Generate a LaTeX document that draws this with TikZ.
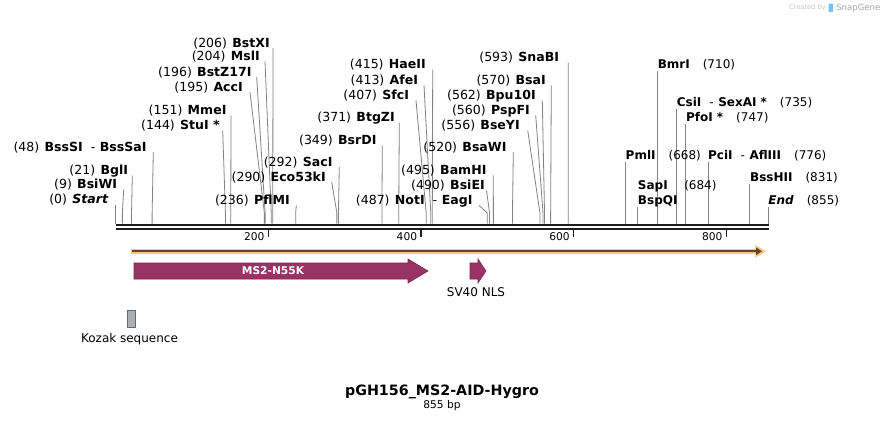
\documentclass[tikz,border=0pt]{standalone}
\usepackage{fontspec}
\setmainfont{DejaVu Sans}
\usepackage{xcolor}
\usepackage{tikz}
\usetikzlibrary{arrows.meta, positioning, calc}
\definecolor{cutGray}{RGB}{130,130,130}
\definecolor{backboneDark}{RGB}{30,30,30}
\definecolor{featMagenta}{RGB}{153,51,102}
\definecolor{featOrange}{RGB}{250,200,122}
\definecolor{featBrown}{RGB}{88,72,52}
\definecolor{kozakGray}{RGB}{170,176,183}
\definecolor{snapBlue}{RGB}{120,195,240}
\newcommand{\cutpair}[2]{#1\hspace{6pt}{\mdseries -}\hspace{3.4pt}#2}

\begin{document}
\begin{tikzpicture}[
    x=0.75pt, y=-0.75pt,
    leftlbl/.style={anchor=base east, inner sep=0pt, font=\fontsize{9.4}{10}\selectfont},
    rightlbl/.style={anchor=base west, inner sep=0pt, font=\fontsize{9}{10}\selectfont},
    cutline/.style={draw=cutGray, line width=0.6pt},
    backbone/.style={draw=backboneDark},
    tickmark/.style={draw=backboneDark, line width=1pt},
    ticklbl/.style={anchor=base east, inner sep=0pt, font=\fontsize{8}{9}\selectfont},
    featbox/.style={draw=featMagenta!75!black, line width=0.4pt, fill=featMagenta},
    featlbl/.style={inner sep=0pt, font=\fontsize{9}{10}\selectfont}
  ]
    \fill[white] (0,0) rectangle (886,421);
    \useasboundingbox (0,0) rectangle (886,421);

    % enzymes, labels on the left of their line
    \foreach \bp/\nm/\tx/\lx/\by in {
        206/BstXI/270/273/47, 204/MslI/260/265/60.4, 196/BstZ17I/251.7/256.7/76.1,
        195/AccI/243/250/91.1, 151/MmeI/226.7/231/114.4, 144/{StuI *}/220/222.7/129.4,
        48/{\cutpair{BssSI}{BssSaI}}/146.7/153.3/151.1, 21/BglI/128.3/132.3/174.4,
        9/BsiWI/117.3/123.7/188.4, 0/{\itshape Start}/108.3/115.5/203.7,
        236/PflMI/290/296.3/204.4, 290/Eco53kI/326/331.7/181.1, 292/SacI/332.7/339.3/166.1,
        349/BsrDI/376.7/382.3/144.4, 371/BtgZI/395/399.3/121.7, 407/SfcI/409.3/416/99.4,
        413/AfeI/418.3/424/84.4, 415/HaeII/426/432.7/68.7,
        487/{\cutpair{NotI}{EagI}}/472.7/479/204.4, 490/BsiEI/485/486.5/189.4,
        495/BamHI/486.7/493.3/174.4, 520/BsaWI/506.7/513.3/151.1, 556/BseYI/520/527.7/129.4,
        560/PspFI/530/535.7/114.4, 562/Bpu10I/536/542.3/99.4, 570/BsaI/546/551.3/84.4,
        593/SnaBI/559.3/568.3/61.7}{
      \pgfmathsetmacro\sx{115.5+0.7634*\bp}
      \node[leftlbl] (e\bp) at (\tx,\by) {(\bp)\hspace{4pt}{\bfseries\nm}};
      \coordinate (t\bp) at (\lx,\by+1);
      \coordinate (k\bp) at (\sx,213);
      \coordinate (b\bp) at (\sx,223.5);
      \draw[cutline] (t\bp) -- (k\bp) -- (b\bp);
    }

    % enzymes, labels on the right of their line
    \foreach \bp/\nm/\by in {
        710/BmrI/68.4, 735/{\cutpair{CsiI}{SexAI} *}/106, 747/{PfoI *}/121.4,
        668/PmlI/159.4, 776/{\cutpair{PciI}{AflIII}}/159.4, 831/BssHII/181,
        855/{\itshape End}/204.4}{
      \pgfmathsetmacro\sx{115.5+0.7634*\bp}
      \node[rightlbl] (e\bp) at (\sx,\by) {{\bfseries\nm}\hspace{9.75pt}(\bp)};
      \coordinate (t\bp) at (\sx,\by+3);
      \coordinate (b\bp) at (\sx,223.5);
      \draw[cutline] (t\bp) -- (b\bp);
    }
    \node[rightlbl] (e684) at (637.7,204.4) {\bfseries BspQI};
    \node[rightlbl] (sap) at (637.7,189.4) {\bfseries SapI};
    \node[rightlbl] (sapnum) at (684,189.4) {(684)};
    \coordinate (t684) at (637.7,207.4);
    \coordinate (b684) at (637.7,223.5);
    \draw[cutline] (t684) -- (b684);

    % sequence
    \coordinate (seqL) at (115.5,224.9);
    \coordinate (seqR) at (768.5,224.9);
    \coordinate (strL) at (115.5,229.1);
    \coordinate (strR) at (768.5,229.1);
    \draw[backbone, line width=1.8pt] (seqL) -- (seqR);
    \draw[backbone, line width=1.45pt] (strL) -- (strR);
    \foreach \t in {200,400,600,800}{
      \pgfmathsetmacro\tx{115.5+0.7634*\t}
      \coordinate (tk\t) at (\tx,229.5);
      \draw[tickmark] (tk\t) -- ++(0,7);
      \node[ticklbl] at (\tx-3.5,240.7) {\t};
    }

    % features
    \coordinate (orgL) at (131,251.3);
    \coordinate (orgR) at (766,251.3);
    \coordinate (brnR) at (762,251.3);
    \draw[featOrange, line width=3.9pt, -{Triangle[length=8pt,width=9pt]}] (orgL) -- (orgR);
    \draw[featBrown, line width=1.5pt, -{Triangle[length=4.5pt,width=5.5pt]}] ([xshift=0.4pt]orgL) -- (brnR);

    \draw[featbox] (134,263) -- (408,263) -- (408,259) -- (428,271) -- (408,283) -- (408,279) -- (134,279) -- cycle;
    \node[featlbl, text=white, font=\fontsize{8}{9}\selectfont\bfseries] (ms2) at (273,271) {MS2-N55K};

    \draw[featbox] (470,263) -- (478,263) -- (478,259) -- (486,271) -- (478,283) -- (478,279) -- (470,279) -- cycle;
    \node[featlbl] (nls) at (476,292.5) {SV40 NLS};

    \draw[draw=kozakGray!60!black, line width=0.4pt, fill=kozakGray] (127,310) rectangle (135,327);
    \node[featlbl] (kozak) at (129.5,339.5) {Kozak sequence};

    % title
    \node[inner sep=0pt, anchor=base, font=\fontsize{10.7}{12}\selectfont\bfseries] (title) at (442,395.5) {pGH156\_MS2-AID-Hygro};
    \node[inner sep=0pt, anchor=base, font=\fontsize{8}{9}\selectfont] (len) at (442,408) {855 bp};

    \node[inner sep=0pt, anchor=base east, text=gray!45, font=\fontsize{5}{6}\selectfont] (made) at (826,9.8) {Created by};
    \fill[snapBlue, rounded corners=0.6pt] (828.5,3.5) rectangle (833,12);
    \node[inner sep=0pt, anchor=base west, text=gray!70, font=\fontsize{6.4}{7}\selectfont] (snap) at (836,10.5) {SnapGene};
  \end{tikzpicture}
\end{document}
